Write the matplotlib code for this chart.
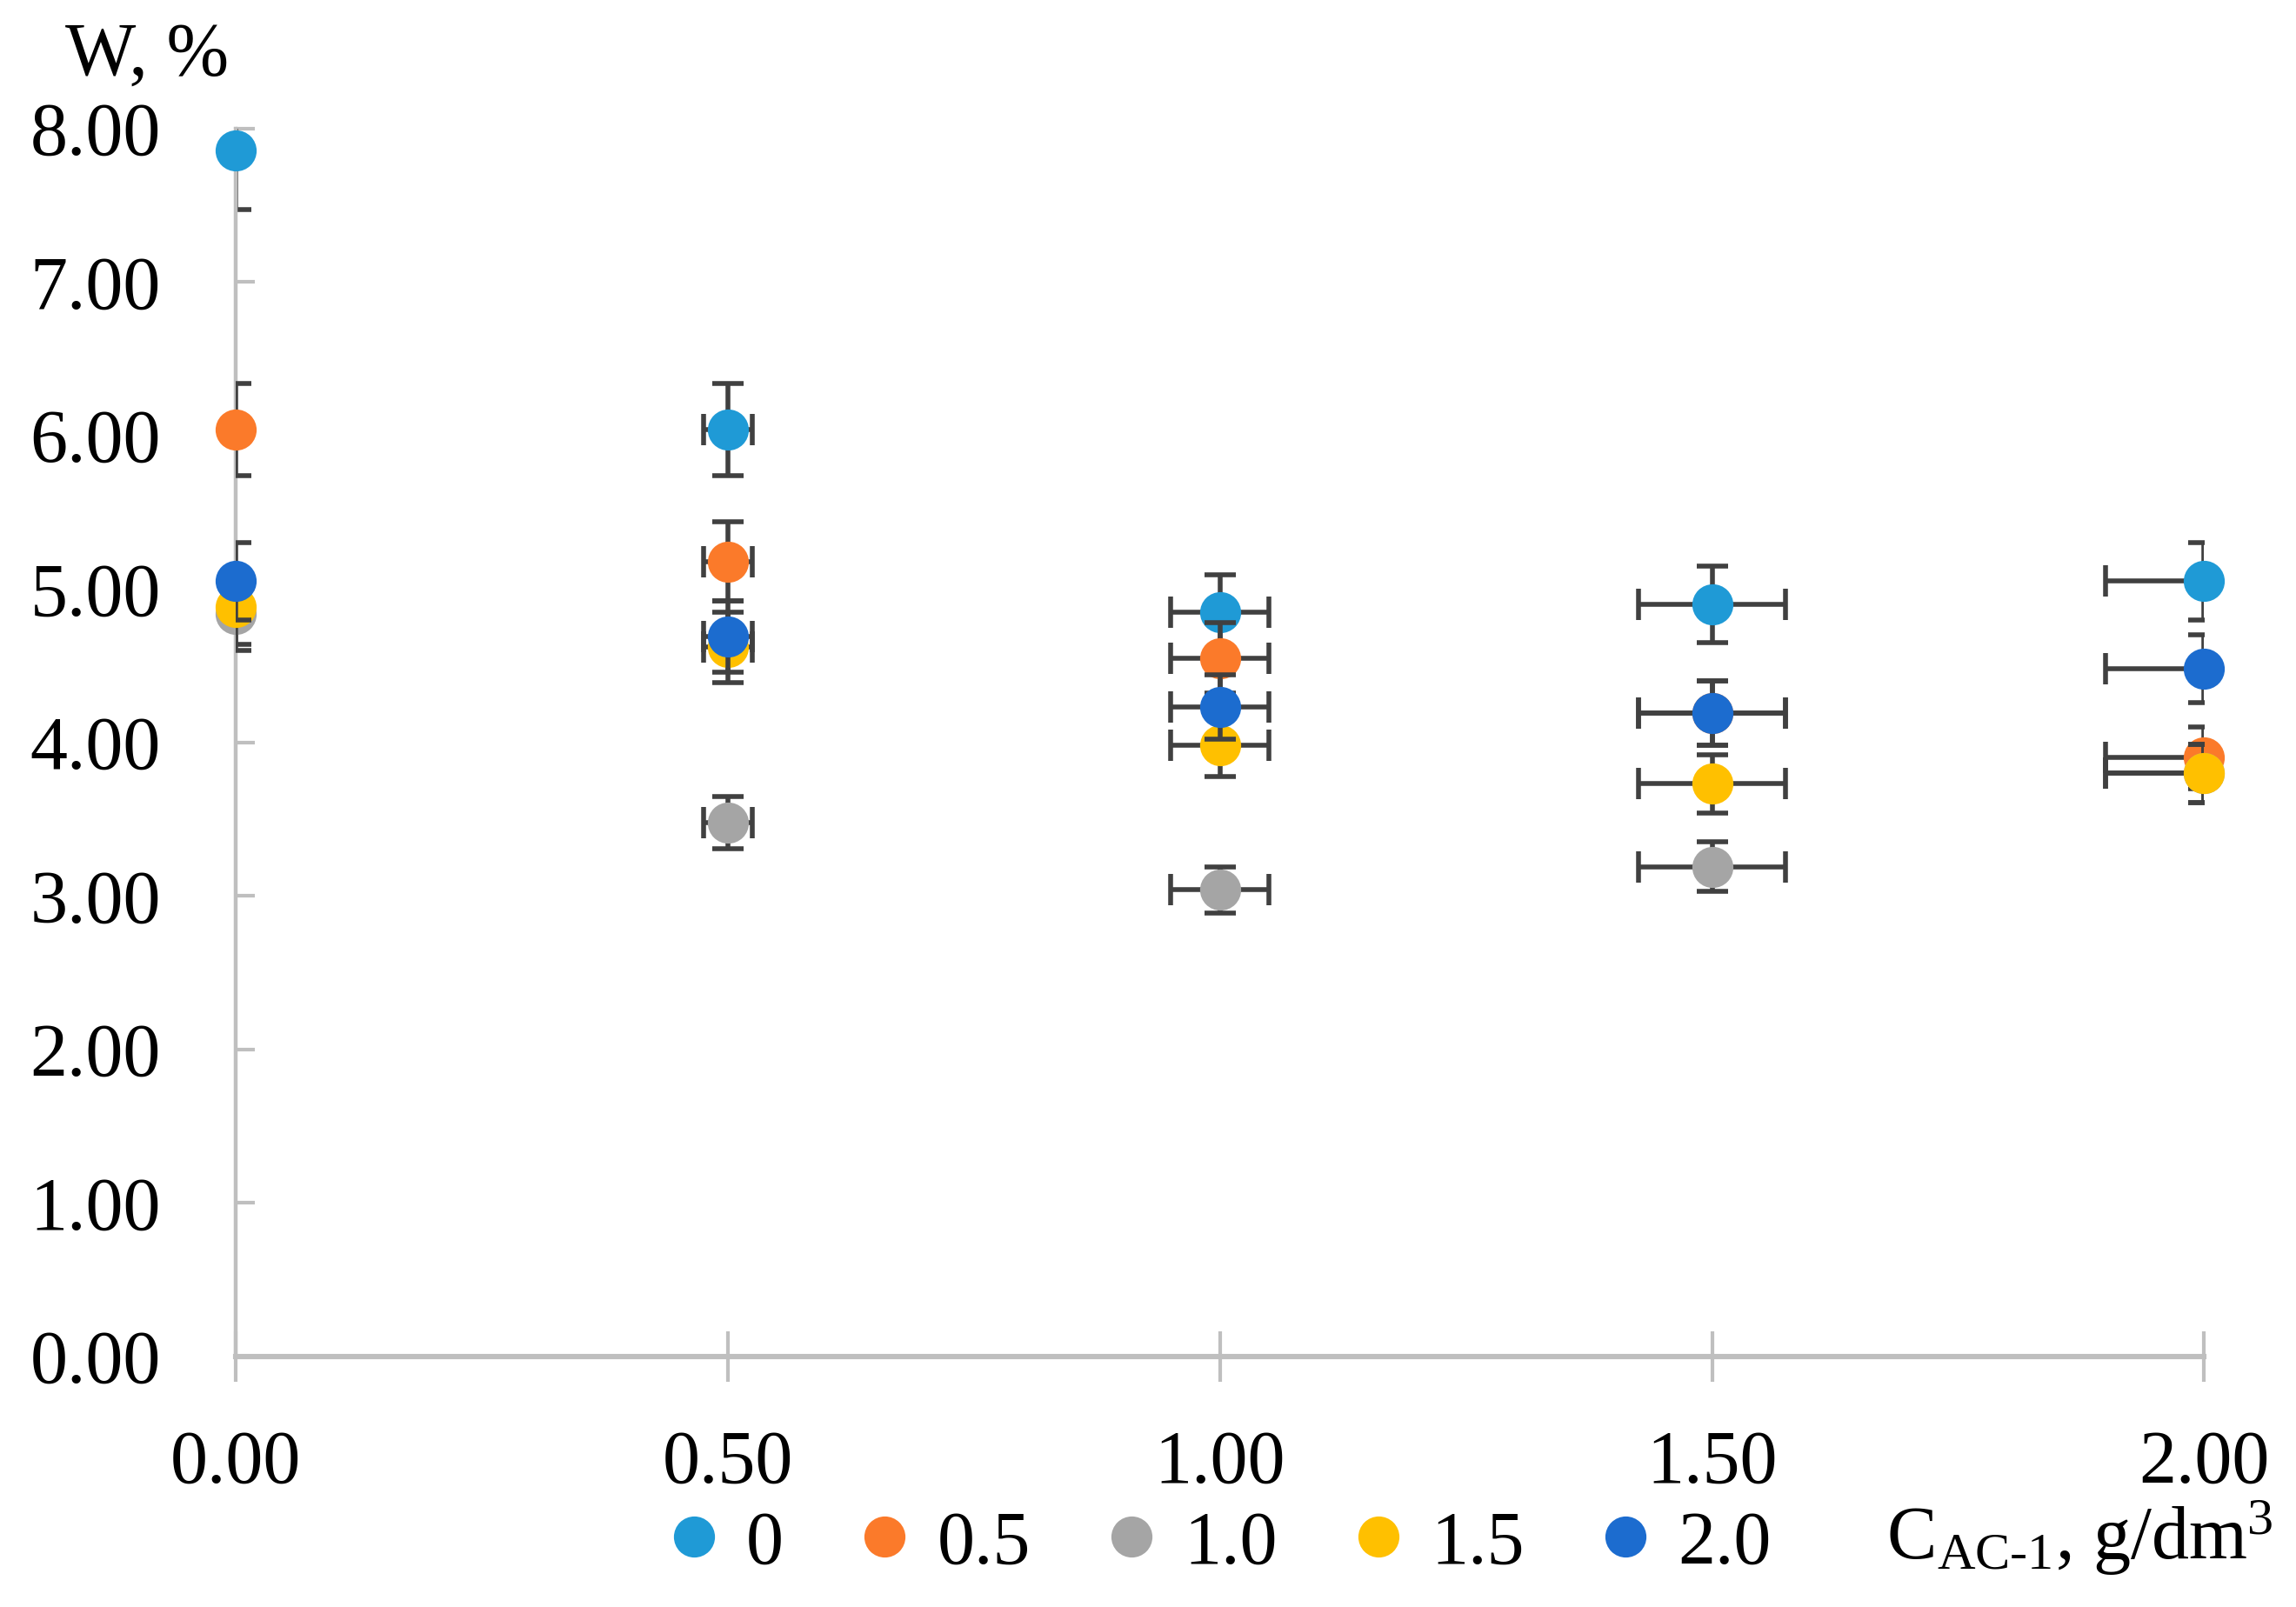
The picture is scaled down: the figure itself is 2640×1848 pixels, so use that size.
"""
Moisture W vs AC-1 concentration, with 5 % error bars.
"""

import matplotlib.pyplot as plt

plt.rcParams['font.family'] = 'Liberation Serif'
plt.rcParams['mathtext.fontset'] = 'custom'
plt.rcParams['mathtext.rm'] = 'Liberation Serif'
plt.rcParams['mathtext.it'] = 'Liberation Serif:italic'
plt.rcParams['font.size'] = 31

# Data
conc = [0.0, 0.5, 1.0, 1.5, 2.0]
xerr = [0.0, 0.025, 0.05, 0.075, 0.10]

labels = ['0', '0.5', '1.0', '1.5', '2.0']
w_values = [
    [7.86, 6.04, 4.85, 4.90, 5.05],
    [6.04, 5.18, 4.55, 4.19, 3.90],
    [4.84, 3.48, 3.04, 3.19, 3.80],
    [4.88, 4.62, 3.98, 3.73, 3.80],
    [5.05, 4.69, 4.23, 4.19, 4.48],
]
w_errors = [
    [0.39, 0.30, 0.24, 0.25, 0.25],
    [0.30, 0.26, 0.23, 0.21, 0.20],
    [0.24, 0.17, 0.15, 0.16, 0.19],
    [0.24, 0.23, 0.20, 0.19, 0.19],
    [0.25, 0.23, 0.21, 0.21, 0.22],
]
colors = ['#1F9AD6', '#FB7A2A', '#A5A5A5', '#FFC000', '#1C6CCF']

fig = plt.figure(figsize=(13.2, 9.24), dpi=200)
ax = fig.add_axes([0.1027, 0.156, 0.8573, 0.764])

for i, (lab, w, err, c) in enumerate(zip(labels, w_values, w_errors, colors)):
    ax.errorbar(conc, w, yerr=err, xerr=xerr, fmt='none', ecolor='#404040',
                elinewidth=2.0, capsize=6.5, capthick=2.0, zorder=2 + 2 * i)
    ax.plot(conc, w, 'o', color=c, markersize=17, markeredgewidth=0,
            label=lab, clip_on=False, zorder=3 + 2 * i)

ax.set_xlim(0, 2)
ax.set_ylim(0, 8)
ax.set_xticks(conc)
ax.set_xticklabels([f'{v:.2f}' for v in conc])
ax.set_yticks(range(9))
ax.set_yticklabels([f'{v:.2f}' for v in range(9)])

for side in ['top', 'right']:
    ax.spines[side].set_visible(False)
for side in ['left', 'bottom']:
    ax.spines[side].set_color('#BFBFBF')
    ax.spines[side].set_linewidth(1.6)
ax.spines['bottom'].set_linewidth(2.2)

ax.tick_params(axis='y', direction='in', length=8, width=1.5,
               color='#BFBFBF', pad=31)
ax.tick_params(axis='x', direction='inout', length=21, width=1.5,
               color='#BFBFBF', pad=20)

fig.text(0.064, 0.965, 'W, %', ha='center', va='center')
fig.text(0.99, 0.043, r'C$_{\mathrm{AC\text{-}1}}$, g/dm$^{3}$',
         ha='right', va='center')

fig.legend(loc='center', bbox_to_anchor=(0.527, 0.0385), ncol=5,
           frameon=False, handletextpad=0.1, columnspacing=0.75,
           handlelength=1.2, markerscale=1.0)

plt.savefig('out.png', dpi=200)
plt.close()
